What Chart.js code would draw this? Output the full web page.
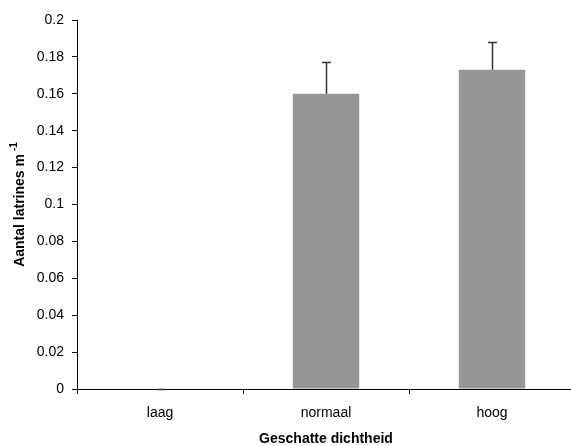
<!DOCTYPE html>
<html>
<head>
<meta charset="utf-8" />
<script src="https://cdn.jsdelivr.net/npm/chart.js@4/dist/chart.umd.min.js"></script>
<style>
  html, body { margin: 0; padding: 0; overflow: hidden; background: #fff; }
</style>
</head>
<body>
<canvas id="myChart" width="575" height="446"></canvas>

<script>
// data
const categories = ['laag', 'normaal', 'hoog'];
const means = [0, 0.16, 0.173];
const errors = [0, 0.017, 0.015];
const yTickLabels = ['0', '0.02', '0.04', '0.06', '0.08', '0.1', '0.12', '0.14', '0.16', '0.18', '0.2'];

const yTitle = 'Aantal latrines m';
const yTitleSup = '-1';
const xTitle = 'Geschatte dichtheid';

const FONT = "'Liberation Sans', Arial, sans-serif";

// error bars on top of the bars
const errorBars = {
  id: 'error_bars',
  afterDatasetsDraw: (chart) => {
    const {ctx} = chart;
    const meta = chart.getDatasetMeta(0);
    const y = chart.scales.y;
    ctx.save();
    ctx.strokeStyle = '#333';
    ctx.lineWidth = 1.5;
    meta.data.forEach((bar, i) => {
      const x = Math.round(bar.x) + 0.5;
      const y0 = y.getPixelForValue(means[i]);
      const y1 = Math.round(y.getPixelForValue(means[i] + errors[i])) + 0.5;
      ctx.beginPath();
      ctx.moveTo(x, y0);
      ctx.lineTo(x, y1);
      ctx.moveTo(x - 4.5, y1);
      ctx.lineTo(x + 4.5, y1);
      ctx.stroke();
    });
    ctx.restore();
  }
};

// rotated y title with superscript
const yAxisTitle = {
  id: 'y_title',
  afterDraw: (chart) => {
    const {ctx, chartArea} = chart;
    ctx.save();
    const cy = (chartArea.top + chartArea.bottom) / 2;
    ctx.translate(20, cy);
    ctx.rotate(-Math.PI / 2);
    ctx.fillStyle = '#000';
    ctx.font = 'bold 14px ' + FONT;
    const w1 = ctx.measureText(yTitle).width;
    ctx.font = 'bold 10px ' + FONT;
    const w2 = ctx.measureText(yTitleSup).width;
    const start = -(w1 + 3 + w2) / 2;
    ctx.textBaseline = 'middle';
    ctx.textAlign = 'left';
    ctx.font = 'bold 14px ' + FONT;
    ctx.fillText(yTitle, start, 0);
    ctx.font = 'bold 10px ' + FONT;
    ctx.fillText(yTitleSup, start + w1 + 3, -6);
    ctx.restore();
  }
};

new Chart(document.getElementById('myChart'), {
  type: 'bar',
  data: {
    labels: categories,
    datasets: [{
      data: means,
      backgroundColor: '#969696',
      borderWidth: 0,
      barPercentage: 0.4,
      categoryPercentage: 1.0
    }]
  },
  options: {
    responsive: false,
    animation: false,
    devicePixelRatio: 1,
    layout: { padding: { top: 20, left: 0, right: 0, bottom: 0 } },
    plugins: {
      legend: { display: false },
      tooltip: { enabled: false }
    },
    scales: {
      x: {
        grid: { display: true, drawOnChartArea: false, drawTicks: true, tickLength: 5, color: '#000', offset: true },
        border: { display: true, color: '#000', width: 1 },
        ticks: { color: '#000', padding: 11, font: { family: FONT, size: 14 } },
        title: { display: true, text: xTitle, color: '#000', padding: { top: 0, bottom: -2 }, font: { family: FONT, size: 14, weight: 'bold' } },
        afterFit: (scale) => { scale.height = 57; }
      },
      y: {
        min: 0,
        max: 0.2,
        grid: { display: true, drawOnChartArea: false, drawTicks: true, tickLength: 5, color: '#000' },
        border: { display: true, color: '#000', width: 1 },
        ticks: {
          stepSize: 0.02,
          color: '#000',
          padding: 8,
          font: { family: FONT, size: 14 },
          callback: (v, i) => yTickLabels[i]
        },
        afterFit: (scale) => { scale.width = 77; }
      }
    }
  },
  plugins: [errorBars, yAxisTitle]
});
</script>
</body>
</html>
